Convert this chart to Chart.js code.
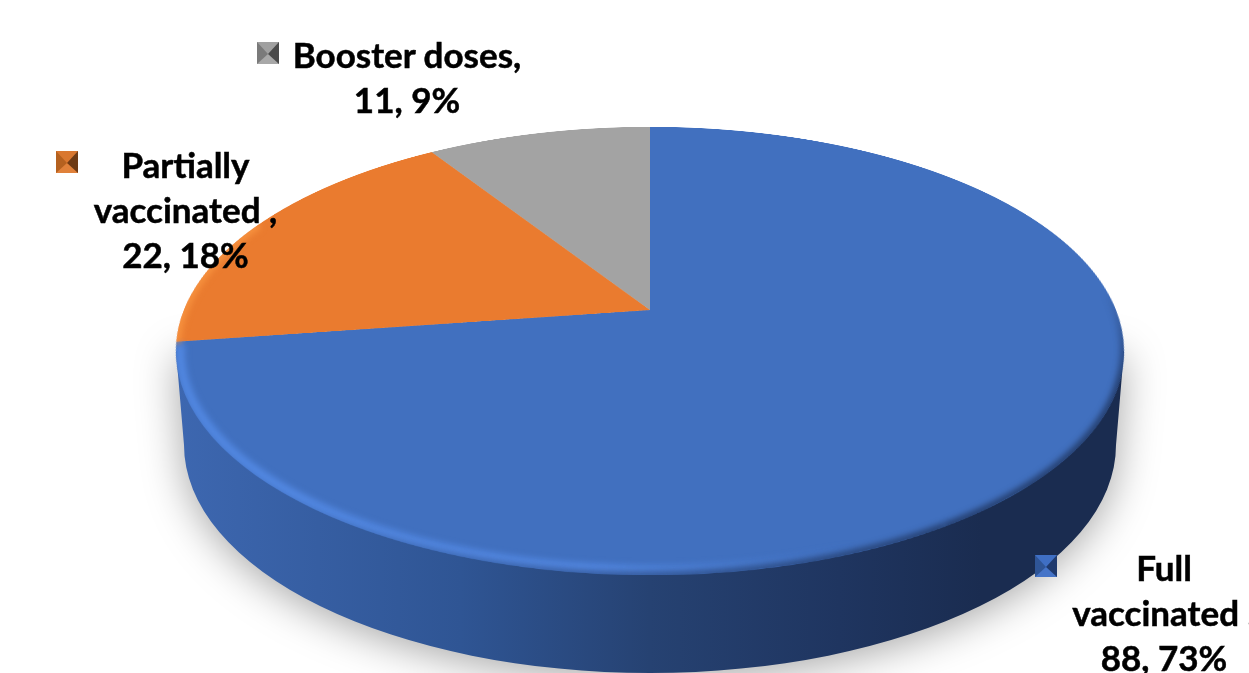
<!DOCTYPE html>
<html>
<head>
<meta charset="utf-8">
<script src="https://cdn.jsdelivr.net/npm/chart.js@4"></script>
<style>
  html, body { margin: 0; padding: 0; background: #fff; }
  body { position: relative; width: 1249px; height: 673px; overflow: hidden; }
  canvas { position: absolute; }
  #pared, #borde { left: 0; top: 0; }
  /* the pie is flat on its canvas, the tilt gives the perspective */
  #miGrafica { left: 170px; top: -170px; transform: perspective(2255px) rotateX(62.3deg); transform-origin: 480px 480px; }
  .etiqueta { position: absolute; font: bold 35px Lato, sans-serif; line-height: 45px; color: #000; text-align: center; white-space: pre; transform: translateX(-50%); -webkit-text-stroke: 0.5px #000; }
  .marca { position: absolute; width: 0; height: 0; border-style: solid; border-width: 12px 11px 10px 11px; }
</style>
</head>
<body>
<canvas id="pared" width="1249" height="673"></canvas>
<canvas id="miGrafica" width="960" height="960"></canvas>
<canvas id="borde" width="1249" height="673"></canvas>
<script>
const categorias = ["Full vaccinated ", "Partially vaccinated ", "Booster doses"];
const valores = [88, 22, 11];
const porcentajes = [73, 18, 9];
const colores = ["#4170BF", "#EA7B2F", "#A3A3A3"];

// Label layout: text lines, centre x, top y, marker x and y, marker bevel colours
const lineasEtiqueta = [
  ["Full", "vaccinated ,", valores[0] + ", " + porcentajes[0] + "%"],
  ["Partially", "vaccinated ,", valores[1] + ", " + porcentajes[1] + "%"],
  ["Booster doses,", valores[2] + ", " + porcentajes[2] + "%"]
];
const centroEtiqueta = [1164, 185.5, 407];
const topeEtiqueta = [545, 142, 32];
const marcaX = [1035, 56, 257];
const marcaY = [555, 151, 42];
const biselMarca = [
  "#3f6fc4 #1f3a6e #4574c8 #2f5596",
  "#d9772f #6e3a14 #e0813a #b5611f",
  "#a0a0a0 #4a4a4a #a8a8a8 #7a7a7a"
];

// Side wall and soft shadow, under the pie
const pared = document.getElementById("pared").getContext("2d");
const gradPared = pared.createLinearGradient(176, 0, 1124, 0);
gradPared.addColorStop(0, "#3d67b0");
gradPared.addColorStop(0.3, "#2f5594");
gradPared.addColorStop(0.5, "#264272");
gradPared.addColorStop(0.7, "#1f3560");
gradPared.addColorStop(0.85, "#1a2c50");
gradPared.addColorStop(1, "#1a2c50");
pared.shadowColor = "rgba(0,0,0,0.35)";
pared.shadowBlur = 42;
pared.shadowOffsetY = 6;
pared.fillStyle = gradPared;
pared.beginPath();
pared.moveTo(176, 351);
pared.lineTo(184, 445);
pared.ellipse(650, 445, 466, 228, 0, Math.PI, 0, true);
pared.lineTo(1124, 351);
pared.closePath();
pared.fill();

// The pie itself
new Chart(document.getElementById("miGrafica"), {
  type: "pie",
  data: {
    labels: categorias,
    datasets: [{ data: valores, backgroundColor: colores, borderWidth: 0 }]
  },
  options: {
    responsive: false,
    animation: false,
    devicePixelRatio: 2,
    layout: { padding: 14 },
    events: [],
    plugins: { legend: { display: false }, tooltip: { enabled: false } }
  }
});

// Bevel on the edge of the top face
const borde = document.getElementById("borde").getContext("2d");
borde.save();
borde.beginPath();
borde.ellipse(650, 351, 474, 224, 0, 0, Math.PI * 2);
borde.clip();
borde.filter = "blur(3px)";

const gradLuz = borde.createLinearGradient(176, 0, 1124, 0);
gradLuz.addColorStop(0, "rgba(82,136,226,1)");
gradLuz.addColorStop(0.45, "rgba(86,140,232,0.9)");
gradLuz.addColorStop(0.72, "rgba(82,136,226,0)");
borde.strokeStyle = gradLuz;
borde.lineWidth = 9;
borde.beginPath();
borde.ellipse(650, 351, 470, 219, 0, Math.PI * 1.01, Math.PI * 0.2, true);
borde.stroke();

// dark edge on the right, fading out upwards and to the left
const gradSombraAlta = borde.createLinearGradient(0, 290, 0, 380);
gradSombraAlta.addColorStop(0, "rgba(26,44,80,0)");
gradSombraAlta.addColorStop(1, "rgba(26,44,80,0.8)");
borde.strokeStyle = gradSombraAlta;
borde.lineWidth = 7;
borde.beginPath();
borde.ellipse(650, 351, 474, 224, 0, -0.3, 0.9);
borde.stroke();

const gradSombra = borde.createLinearGradient(300, 0, 945, 0);
gradSombra.addColorStop(0, "rgba(26,44,80,0)");
gradSombra.addColorStop(1, "rgba(26,44,80,0.8)");
borde.strokeStyle = gradSombra;
borde.beginPath();
borde.ellipse(650, 351, 474, 224, 0, 0.9, Math.PI * 0.85);
borde.stroke();

borde.strokeStyle = "#f7923f";
borde.lineWidth = 8;
borde.beginPath();
borde.ellipse(650, 351, 474, 224, 0, Math.PI + 0.04, Math.PI + 0.6);
borde.stroke();
borde.restore();

// Data labels and their small bevelled markers
lineasEtiqueta.forEach(function (lineas, i) {
  const div = document.createElement("div");
  div.className = "etiqueta";
  div.style.left = centroEtiqueta[i] + "px";
  div.style.top = topeEtiqueta[i] + "px";
  div.textContent = lineas.join("\n");
  document.body.appendChild(div);

  const marca = document.createElement("div");
  marca.className = "marca";
  marca.style.left = marcaX[i] + "px";
  marca.style.top = marcaY[i] + "px";
  marca.style.borderColor = biselMarca[i];
  document.body.appendChild(marca);
});
</script>
</body>
</html>
